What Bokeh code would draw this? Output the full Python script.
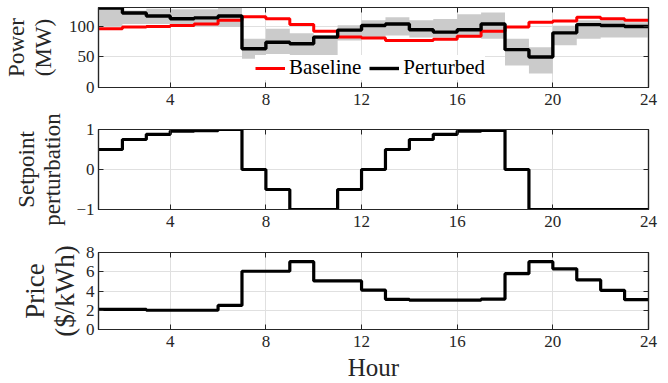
from bokeh.plotting import figure
from bokeh.layouts import column
from bokeh.models import Legend, LegendItem, LinearAxis, FixedTicker, Range1d
from bokeh.embed import file_html
from bokeh.resources import INLINE

# ---------------- data ----------------
hours = list(range(1, 25))
baseline_mw = [96, 99, 100, 101.5, 104, 110, 116, 112.5, 103, 92, 82.5, 81,
               77, 77, 79, 84, 92, 99, 107, 109, 115, 112.5, 110, 110]
perturbed_mw = [130, 122, 117, 112.5, 114, 117, 63.5, 74, 71.7, 82.5, 94, 101.5,
                104, 94.5, 90.7, 94.5, 104, 62, 50, 89.5, 103, 101.5, 100, 100]
scenario_low_mw = [100, 104, 104, 104, 100, 99, 47, 55, 52, 50, 77, 82,
                   85, 82, 82, 82, 80, 36, 23, 69, 80, 82, 82, 82]
scenario_high_mw = [130, 126, 129, 128, 128, 131, 80, 96, 89, 86, 102, 110,
                    115, 110, 112, 120, 123, 80, 66, 101, 110, 110, 107, 107]
setpoint = [0.5, 0.75, 0.88, 0.96, 0.97, 1.0, 0.0, -0.5, -1.0, -1.0, -0.5, 0.0,
            0.5, 0.75, 0.88, 0.96, 0.98, 0.0, -1.0, -1.0, -1.0, -1.0, -1.0, -1.0]
price = [2.1, 2.1, 2.0, 2.0, 2.0, 2.5, 6.05, 6.05, 7.05, 5.05, 5.05, 4.1,
         3.13, 3.06, 3.06, 3.06, 3.16, 5.8, 7.05, 6.3, 5.15, 4.07, 3.1, 2.95]
x_ticks = [4, 8, 12, 16, 20, 24]
power_ticks = [0, 50, 100]
setpoint_ticks = [-1, 0, 1]
price_ticks = [0, 2, 4, 6, 8]

FONT = "Liberation Serif"
AX = "#262626"
GRID = "#e0e0e0"
W = 668
LEFT = 96
RIGHT = 20


def make_fig(height, top, bottom, yr, yticks, ylabel, label_size, standoff,
             line_height, xlabel=None):
    p = figure(width=W, height=height, output_backend="svg", toolbar_location=None,
               x_range=Range1d(1, 24), y_range=Range1d(*yr),
               min_border_left=LEFT, min_border_right=RIGHT,
               min_border_top=top, min_border_bottom=bottom)
    p.xaxis.ticker = FixedTicker(ticks=x_ticks)
    p.yaxis.ticker = FixedTicker(ticks=yticks)
    p.xgrid.ticker = FixedTicker(ticks=x_ticks)
    p.ygrid.ticker = FixedTicker(ticks=yticks)
    for g in (p.xgrid, p.ygrid):
        g.grid_line_color = GRID
        g.grid_line_width = 1
    p.outline_line_color = AX
    p.outline_line_width = 1.2
    p.outline_line_alpha = 1
    p.background_fill_color = "white"
    p.border_fill_color = "white"
    # extra top/right axes for inward ticks (labels not drawn)
    p.add_layout(LinearAxis(), "right")
    p.add_layout(LinearAxis(), "above")
    for ax in p.axis:
        ax.axis_line_color = AX
        ax.axis_line_width = 1.2
        ax.major_tick_line_color = AX
        ax.major_tick_in = 5
        ax.major_tick_out = 0
        ax.minor_tick_line_color = None
        ax.major_label_text_font = FONT
        ax.major_label_text_font_size = "17px"
        ax.major_label_text_color = AX
        ax.axis_label_text_font = FONT
        ax.axis_label_text_font_style = "normal"
        ax.axis_label_text_color = AX
    p.right[0].ticker = FixedTicker(ticks=yticks)
    p.above[0].ticker = FixedTicker(ticks=x_ticks)
    for ax in (p.right[0], p.above[0]):
        ax.major_label_text_font_size = "1px"
        ax.major_label_text_color = None
        ax.major_label_standoff = 0
    p.left[0].major_label_standoff = 4
    p.below[0].major_label_standoff = 6
    p.left[0].axis_label = ylabel
    p.left[0].axis_label_text_font_size = label_size
    p.left[0].axis_label_standoff = standoff
    p.left[0].axis_label_text_line_height = line_height
    if xlabel:
        p.below[0].axis_label = xlabel
        p.below[0].axis_label_text_font_size = "25px"
        p.below[0].axis_label_standoff = 4
    return p


# ---- panel 1: power ----
p1 = make_fig(111, 7, 24, (0, 131), power_ticks, "Power\n(MW)", "23px", 10, 1.1)
p1.varea_step(x=hours, y1=scenario_low_mw, y2=scenario_high_mw, step_mode="after",
              fill_color="#cbcbcb", fill_alpha=1)
r_base = p1.step(hours, baseline_mw, mode="after", line_color="#ff0000", line_width=3)
r_pert = p1.step(hours, perturbed_mw, mode="after", line_color="#000000", line_width=3.4)
legend = Legend(items=[LegendItem(label="Baseline", renderers=[r_base]),
                       LegendItem(label="Perturbed", renderers=[r_pert])],
                orientation="horizontal", location=(157, 7),
                label_text_font=FONT, label_text_font_size="21px",
                label_text_color="#000000",
                border_line_color=None, background_fill_color="white",
                background_fill_alpha=1, glyph_width=30, glyph_height=20,
                label_standoff=4, spacing=8, padding=2, margin=0)
p1.add_layout(legend)

# ---- panel 2: setpoint perturbation ----
p2 = make_fig(127, 18, 29, (-1, 1), setpoint_ticks, "Setpoint\nperturbation", "23px", 8, 1.05)
p2.step(hours, setpoint, mode="after", line_color="#000000", line_width=3.2)

# ---- panel 3: price ----
p3 = make_fig(145, 14, 51, (0, 8), price_ticks, "Price\n($/kWh)", "27px", 3, 1.0, xlabel="Hour")
p3.step(hours, price, mode="after", line_color="#000000", line_width=3.2)

layout = column(p1, p2, p3, spacing=0)
open("out.html", "w").write(file_html(layout, INLINE))
